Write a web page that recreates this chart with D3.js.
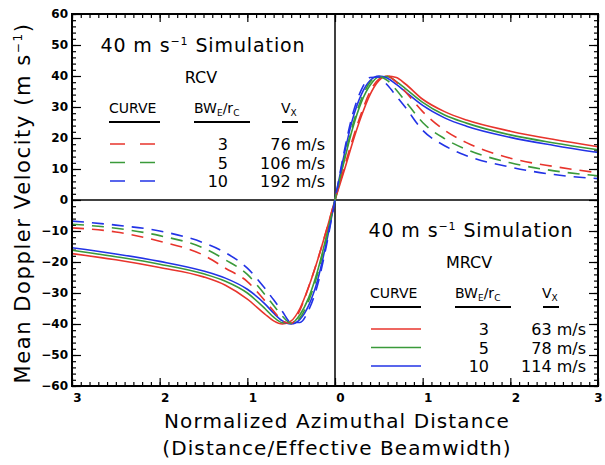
<!DOCTYPE html>
<html>
<head>
<meta charset="utf-8">
<script src="https://cdn.jsdelivr.net/npm/d3@7"></script>
<style>
  body { margin: 0; background: #fff; }
  text { font-family: "DejaVu Sans", sans-serif; fill: #000; }
</style>
</head>
<body>
<div id="chart"></div>
<script>
// normalized azimuthal distance (grid shared by every curve)
const xGrid = [-3, -2.5, -2, -1.5, -1.25, -1, -0.8, -0.7, -0.6, -0.5, -0.4, -0.3, -0.2, -0.1, 0,
               0.1, 0.2, 0.3, 0.4, 0.5, 0.6, 0.7, 0.8, 1, 1.25, 1.5, 2, 2.5, 3];

// RCV (dashed)
const rcv3  = [-9, -10.3, -13.3, -17.8, -22, -26.3, -32.5, -35.8, -39, -39.8, -35.5, -28, -19.5, -10, 0,
               10, 19.5, 28, 35, 39, 40, 38, 35, 28.5, 22.5, 18.5, 13.5, 10.8, 8.8];
const rcv5  = [-7.8, -9.1, -11.5, -15.5, -19.3, -24, -30.5, -34, -37.5, -39.8, -38, -32.5, -24, -12.5, 0,
               12.5, 24, 32.5, 38, 39.8, 38.5, 35.5, 32, 25, 19.8, 16.3, 12, 9.4, 7.8];
const rcv10 = [-6.8, -8.1, -10, -13.8, -17, -22, -28.5, -32.2, -36, -39.5, -39.5, -35.5, -27.5, -15, 0,
               15, 27.5, 35.5, 39.5, 39.7, 37, 33.5, 30, 22.5, 17.5, 14.3, 10.6, 8.2, 6.9];

// MRCV (solid)
const mrcv3  = [-17.3, -19.3, -21.8, -24.8, -27.5, -32, -36.8, -39, -40, -39, -35, -28, -19.5, -10, 0,
                9, 18.5, 27, 34, 38.5, 40, 39.5, 37.5, 32.5, 28.5, 25.8, 22.2, 19.5, 17.2];
const mrcv5  = [-16.2, -18.3, -20.7, -23.8, -26.2, -30, -35, -37.8, -39.6, -39.8, -37, -31.5, -23, -12, 0,
                12, 23, 31.5, 37, 39.7, 39.8, 38.2, 36, 31.5, 27.4, 24.8, 21, 18.4, 16.2];
const mrcv10 = [-15.4, -17.4, -19.8, -22.9, -25.2, -28.8, -33.5, -36.5, -39, -40, -38.5, -34, -26, -14, 0,
                14, 26, 34, 38.5, 40, 39.3, 37.3, 35, 30.5, 26.5, 23.8, 20.2, 17.6, 15.3];

const bwLabels = ["3", "5", "10"];
const rcvVx = ["76 m/s", "106 m/s", "192 m/s"];
const mrcvVx = ["63 m/s", "78 m/s", "114 m/s"];
const colors = ["#e8342c", "#3a9a3a", "#2233e6"];

const xTickValues = [-3, -2, -1, 0, 1, 2, 3];
const xTickLabels = ["3", "2", "1", "0", "1", "2", "3"];
const yTickValues = [-60, -50, -40, -30, -20, -10, 0, 10, 20, 30, 40, 50, 60];

const width = 605, height = 465;
const margin = {top: 14, right: 7, bottom: 79, left: 72};
const innerW = width - margin.left - margin.right;
const innerH = height - margin.top - margin.bottom;

const svg = d3.select("#chart").append("svg")
    .attr("width", width)
    .attr("height", height);
svg.append("rect").attr("width", width).attr("height", height).attr("fill", "#fff");

const g = svg.append("g")
    .attr("transform", "translate(" + margin.left + "," + margin.top + ")");

const x = d3.scaleLinear().domain([-3, 3]).range([0, innerW]);
const y = d3.scaleLinear().domain([-60, 60]).range([innerH, 0]);

const xMinor = d3.range(-30, 31).map(d => d / 10);
const yMinor = d3.range(-60, 61, 2);

// spread letters so a text fills the width it has in the original
function fitWidth(sel, target) {
    const n = sel.text().length;
    const w = sel.node().getComputedTextLength();
    sel.attr("letter-spacing", (target - w) / n);
}

// ticks, all pointing inwards
function tickAxis(axis, values, size) {
    return axis.tickValues(values).tickSize(-size).tickFormat("");
}
g.append("g").attr("transform", "translate(0," + innerH + ")").call(tickAxis(d3.axisBottom(x), xMinor, 4));
g.append("g").call(tickAxis(d3.axisTop(x), xMinor, 4));
g.append("g").call(tickAxis(d3.axisLeft(y), yMinor, 4));
g.append("g").attr("transform", "translate(" + innerW + ",0)").call(tickAxis(d3.axisRight(y), yMinor, 4));

// major ticks with labels
g.append("g").attr("class", "xaxis")
    .attr("transform", "translate(0," + innerH + ")")
    .call(d3.axisBottom(x).tickValues(xTickValues).tickSize(-8).tickPadding(7)
        .tickFormat((d, i) => xTickLabels[i]));
g.append("g").call(tickAxis(d3.axisTop(x), xTickValues, 8));
g.append("g").attr("class", "yaxis")
    .call(d3.axisLeft(y).tickValues(yTickValues).tickSize(-9).tickPadding(4));
g.append("g").attr("transform", "translate(" + innerW + ",0)").call(tickAxis(d3.axisRight(y), yTickValues, 9));

g.selectAll(".domain").remove();
g.selectAll(".tick line").attr("stroke", "#000").attr("stroke-width", 1.2);
g.selectAll(".xaxis text, .yaxis text")
    .style("font-family", "'DejaVu Sans', sans-serif")
    .style("font-size", "12px")
    .style("font-weight", "bold");
g.selectAll(".xaxis text").attr("x", (d, i) => i === xTickValues.length - 1 ? 0 : 5);

// zero lines
g.append("line").attr("x1", 0).attr("x2", innerW).attr("y1", y(0)).attr("y2", y(0))
    .attr("stroke", "#000").attr("stroke-width", 1.5);
g.append("line").attr("x1", x(0)).attr("x2", x(0)).attr("y1", 0).attr("y2", innerH)
    .attr("stroke", "#000").attr("stroke-width", 1.5);

// curves
const line = d3.line()
    .x((d, i) => x(xGrid[i]))
    .y(d => y(d))
    .curve(d3.curveMonotoneX);

const series = [
    {values: mrcv3, color: colors[0], dash: null},
    {values: mrcv5, color: colors[1], dash: null},
    {values: mrcv10, color: colors[2], dash: null},
    {values: rcv3, color: colors[0], dash: "12,8"},
    {values: rcv5, color: colors[1], dash: "12,8"},
    {values: rcv10, color: colors[2], dash: "12,8"}
];
g.selectAll(".curve").data(series).enter()
    .append("path")
    .attr("class", "curve")
    .attr("d", d => line(d.values))
    .attr("fill", "none")
    .attr("stroke", d => d.color)
    .attr("stroke-width", 1.6)
    .attr("stroke-dasharray", d => d.dash);

// frame
g.append("rect").attr("width", innerW).attr("height", innerH)
    .attr("fill", "none").attr("stroke", "#000").attr("stroke-width", 2);

// legends
function legend(ox, oy, titleX, name, vx, dash) {
    const lg = svg.append("g").attr("transform", "translate(" + ox + "," + oy + ")");
    const title = lg.append("text").attr("x", titleX).attr("y", 0)
        .attr("text-anchor", "middle").style("font-size", "19px");
    title.append("tspan").text("40 m s");
    title.append("tspan").attr("dy", -7).style("font-size", "11px").text("\u22121");
    title.append("tspan").attr("dy", 7).text(" Simulation");
    fitWidth(title, 205);

    lg.append("text").attr("x", titleX - 2).attr("y", 31)
        .attr("text-anchor", "middle").style("font-size", "16px").text(name);

    lg.append("text").attr("x", 9).attr("y", 61).style("font-size", "14px").text("CURVE");
    const bw = lg.append("text").attr("x", 94).attr("y", 61).style("font-size", "14px");
    bw.append("tspan").text("BW");
    bw.append("tspan").attr("dy", 3).style("font-size", "9px").text("E");
    bw.append("tspan").attr("dy", -3).text("/r");
    bw.append("tspan").attr("dy", 3).style("font-size", "9px").text("C");
    const v = lg.append("text").attr("x", 181).attr("y", 61).style("font-size", "14px");
    v.append("tspan").text("V");
    v.append("tspan").attr("dy", 3).style("font-size", "9px").text("X");

    [[9, 60], [94, 150], [182, 198]].forEach(u => {
        lg.append("line").attr("x1", u[0]).attr("x2", u[1]).attr("y1", 70).attr("y2", 70)
            .attr("stroke", "#000").attr("stroke-width", 2);
    });

    bwLabels.forEach((b, i) => {
        const yy = 92 + i * 18.5;
        lg.append("line").attr("x1", 10).attr("x2", 60).attr("y1", yy).attr("y2", yy)
            .attr("stroke", colors[i]).attr("stroke-width", 1.6)
            .attr("stroke-dasharray", dash);
        lg.append("text").attr("x", 128).attr("y", yy + 6)
            .attr("text-anchor", "end").style("font-size", "16px").text(b);
        lg.append("text").attr("x", 225).attr("y", yy + 6)
            .attr("text-anchor", "end").style("font-size", "16px").text(vx[i]);
    });
}
legend(100, 52, 103, "RCV", rcvVx, "15,15");
legend(361, 237, 110, "MRCV", mrcvVx, null);

// axis titles
const yTitle = svg.append("text")
    .attr("transform", "translate(30," + 203 + ") rotate(-90)")
    .attr("text-anchor", "middle")
    .style("font-size", "21px");
yTitle.append("tspan").text("Mean Doppler Velocity (m s");
yTitle.append("tspan").attr("dy", -8).style("font-size", "12px").text("\u22121");
yTitle.append("tspan").attr("dy", 8).text(")");
fitWidth(yTitle, 361);

const xTitle1 = svg.append("text").attr("x", 337).attr("y", 428)
    .attr("text-anchor", "middle").style("font-size", "20px")
    .text("Normalized Azimuthal Distance");
fitWidth(xTitle1, 346);
const xTitle2 = svg.append("text").attr("x", 337).attr("y", 455)
    .attr("text-anchor", "middle").style("font-size", "20px")
    .text("(Distance/Effective Beamwidth)");
fitWidth(xTitle2, 349);
</script>
</body>
</html>
